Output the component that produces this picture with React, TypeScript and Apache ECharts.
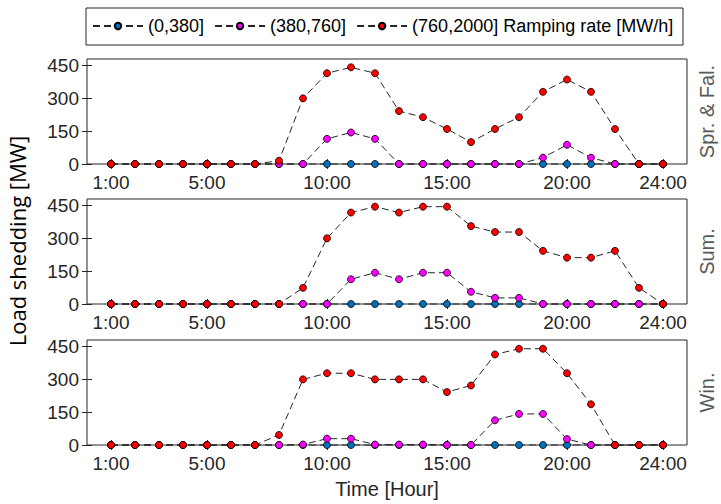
import React, { useEffect, useRef } from "react";
import * as echarts from "echarts";

const hours = [1, 2, 3, 4, 5, 6, 7, 8, 9, 10, 11, 12, 13, 14, 15, 16, 17, 18, 19, 20, 21, 22, 23, 24];
const xTicks = [1, 5, 10, 15, 20, 24];
const yTicks = [0, 150, 300, 450];
const seriesNames = ["(0,380]", "(380,760]", "(760,2000] Ramping rate [MW/h]"];
const seriesColors = ["#0072BD", "#FF00FF", "#FF0000"];
const seasons = ["Spr. & Fal.", "Sum.", "Win."];

// Spring & Fall
const sfLow = [0, 0, 0, 0, 0, 0, 0, 0, 0, 0, 0, 0, 0, 0, 0, 0, 0, 0, 0, 0, 0, 0, 0, 0];
const sfMid = [0, 0, 0, 0, 0, 0, 0, 0, 0, 115, 144, 115, 0, 0, 0, 0, 0, 0, 29, 88, 29, 0, 0, 0];
const sfHigh = [0, 0, 0, 0, 0, 0, 0, 15, 300, 415, 442, 415, 242, 214, 160, 100, 160, 214, 330, 386, 330, 160, 0, 0];
// Summer
const suLow = [0, 0, 0, 0, 0, 0, 0, 0, 0, 0, 0, 0, 0, 0, 0, 0, 0, 0, 0, 0, 0, 0, 0, 0];
const suMid = [0, 0, 0, 0, 0, 0, 0, 0, 0, 0, 113, 143, 113, 143, 143, 56, 28, 28, 0, 0, 0, 0, 0, 0];
const suHigh = [0, 0, 0, 0, 0, 0, 0, 0, 74, 300, 418, 445, 418, 445, 445, 356, 329, 329, 243, 212, 212, 243, 74, 0];
// Winter
const wiLow = [0, 0, 0, 0, 0, 0, 0, 0, 0, 0, 0, 0, 0, 0, 0, 0, 0, 0, 0, 0, 0, 0, 0, 0];
const wiMid = [0, 0, 0, 0, 0, 0, 0, 0, 2, 29, 29, 2, 2, 2, 0, 0, 113, 142, 142, 27, 0, 0, 0, 0];
const wiHigh = [0, 0, 0, 0, 0, 0, 0, 46, 300, 328, 328, 300, 300, 300, 242, 272, 414, 440, 440, 328, 186, 0, 0, 0];

const panels = [
  [sfLow, sfMid, sfHigh],
  [suLow, suMid, suHigh],
  [wiLow, wiMid, wiHigh],
];

const FONT = "'Liberation Sans', Arial, sans-serif";
const gridTops = [59, 199, 340];
const gridH = 105;
const gridLeft = 87;
const gridW = 600;

export default function App() {
  const ref = useRef<HTMLDivElement>(null);
  useEffect(() => {
    if (!ref.current) return;
    const chart = echarts.init(ref.current, null, { renderer: "svg" });
    const grid: any[] = [];
    const xAxis: any[] = [];
    const yAxis: any[] = [];
    const series: any[] = [];
    panels.forEach((panel, gi) => {
      grid.push({
        left: gridLeft,
        top: gridTops[gi],
        width: gridW,
        height: gridH,
        show: true,
        borderColor: "#262626",
        borderWidth: 1,
        backgroundColor: "transparent",
      });
      const tickCommon = { inside: true, length: 5, lineStyle: { color: "#262626", width: 1 } };
      xAxis.push({
        type: "value",
        gridIndex: gi,
        min: 0,
        max: 25,
        position: "bottom",
        axisLine: { show: false },
        splitLine: { show: false },
        axisTick: { ...tickCommon, customValues: xTicks },
        axisLabel: {
          customValues: xTicks,
          formatter: (v: number) => `${v}:00`,
          color: "#262626",
          fontFamily: FONT,
          fontSize: 19,
          margin: 9,
        },
      });
      xAxis.push({
        type: "value",
        gridIndex: gi,
        min: 0,
        max: 25,
        position: "top",
        axisLine: { show: false },
        splitLine: { show: false },
        axisTick: { ...tickCommon, customValues: xTicks },
        axisLabel: { show: false },
      });
      yAxis.push({
        type: "value",
        gridIndex: gi,
        min: 0,
        max: 480,
        position: "left",
        axisLine: { show: false },
        splitLine: { show: false },
        axisTick: { ...tickCommon, customValues: yTicks },
        axisLabel: {
          customValues: yTicks,
          color: "#262626",
          fontFamily: FONT,
          fontSize: 19,
          margin: 8,
        },
      });
      yAxis.push({
        type: "value",
        gridIndex: gi,
        min: 0,
        max: 480,
        position: "right",
        axisLine: { show: false },
        splitLine: { show: false },
        axisTick: { ...tickCommon, customValues: yTicks },
        axisLabel: { show: false },
      });
      panel.forEach((vals, si) => {
        series.push({
          name: seriesNames[si],
          type: "line",
          xAxisIndex: gi * 2,
          yAxisIndex: gi * 2,
          data: hours.map((h, i) => [h, vals[i]]),
          symbol: "circle",
          symbolSize: 7,
          clip: false,
          lineStyle: { color: "#262626", width: 1, type: [7, 4] },
          itemStyle: { color: seriesColors[si], borderColor: "#000", borderWidth: 0.8 },
          emphasis: { disabled: true },
        });
      });
    });

    const graphic: any[] = [
      {
        type: "rect",
        shape: { x: 86, y: 8, width: 597, height: 37 },
        style: { fill: "#fff", stroke: "#262626", lineWidth: 1 },
        z: -1,
      },
      {
        type: "text",
        x: 17,
        y: 241,
        rotation: Math.PI / 2,
        style: {
          text: "Load shedding [MW]",
          font: `22px 'Open Sans', ${FONT}`,
          fill: "#000",
          align: "center",
          verticalAlign: "middle",
        },
      },
      {
        type: "text",
        x: 387,
        y: 489,
        style: {
          text: "Time [Hour]",
          font: `20px ${FONT}`,
          fill: "#262626",
          align: "center",
          verticalAlign: "middle",
        },
      },
    ];
    seasons.forEach((s, gi) => {
      graphic.push({
        type: "text",
        x: 707,
        y: gridTops[gi] + gridH / 2,
        rotation: Math.PI / 2,
        style: {
          text: s,
          font: `20px ${FONT}`,
          fill: "#595959",
          align: "center",
          verticalAlign: "middle",
        },
      });
    });

    chart.setOption({
      animation: false,
      backgroundColor: "#fff",
      legend: {
        data: seriesNames,
        left: 92,
        top: 17,
        width: 620,
        itemWidth: 50,
        itemHeight: 8,
        itemGap: 10,
        padding: 0,
        textStyle: { fontFamily: FONT, fontSize: 18, color: "#000" },
        selectedMode: false,
      },
      grid,
      xAxis,
      yAxis,
      series,
      graphic,
    });
    return () => chart.dispose();
  }, []);
  return (
    <div
      ref={ref}
      style={{ position: "absolute", left: 0, top: 0, width: 721, height: 504 }}
    />
  );
}
